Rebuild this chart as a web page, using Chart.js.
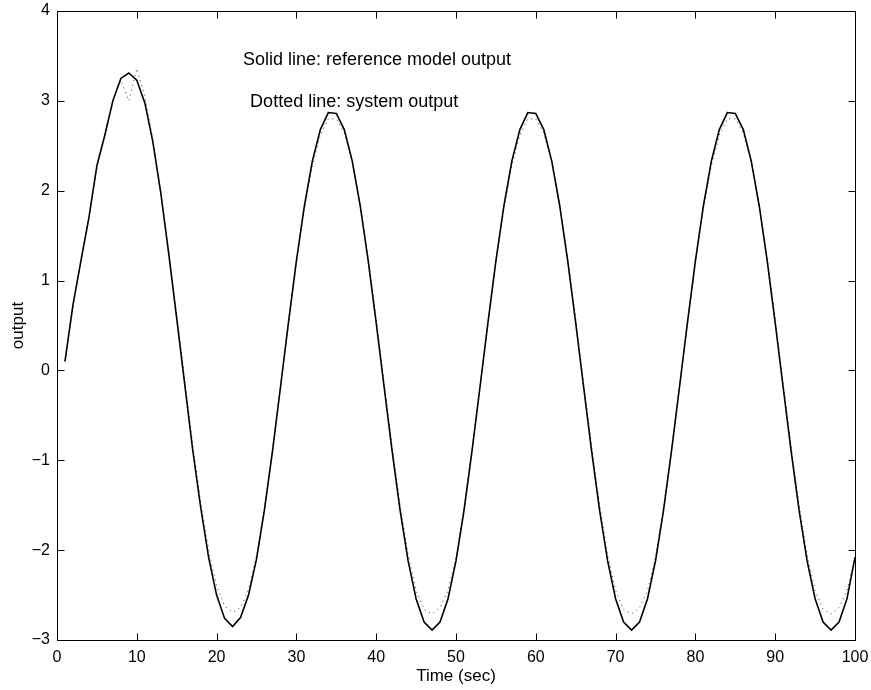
<!DOCTYPE html>
<html><head><meta charset="utf-8">
<script src="https://cdn.jsdelivr.net/npm/chart.js@4.4.1/dist/chart.umd.min.js"></script>
<style>html,body{margin:0;padding:0;background:#fff}#wrap{width:871px;height:690px}</style>
</head><body><div id="wrap"><canvas id="c" width="871" height="690"></canvas></div>
<script>
const timeSec = [1,2,3,4,5,6,7,8,9,10,11,12,13,14,15,16,17,18,19,20,21,22,23,24,25,26,27,28,29,30,31,32,33,34,35,36,37,38,39,40,41,42,43,44,45,46,47,48,49,50,51,52,53,54,55,56,57,58,59,60,61,62,63,64,65,66,67,68,69,70,71,72,73,74,75,76,77,78,79,80,81,82,83,84,85,86,87,88,89,90,91,92,93,94,95,96,97,98,99,100];
const referenceOutput = [
 0.10,0.73,1.22,1.70,2.28,2.62,3.00,3.25,3.31,3.23,
 2.98,2.55,1.98,1.30,0.58,-0.15,-0.88,-1.52,-2.08,-2.50,
 -2.76,-2.85,-2.75,-2.50,-2.10,-1.55,-0.90,-0.19,0.53,1.22,
 1.83,2.33,2.68,2.87,2.86,2.68,2.33,1.83,1.22,0.53,
 -0.19,-0.90,-1.56,-2.12,-2.54,-2.80,-2.89,-2.80,-2.54,-2.12,
 -1.56,-0.90,-0.19,0.53,1.22,1.83,2.33,2.68,2.87,2.86,
 2.68,2.33,1.83,1.22,0.53,-0.19,-0.90,-1.56,-2.12,-2.54,
 -2.80,-2.89,-2.80,-2.54,-2.12,-1.56,-0.90,-0.19,0.53,1.22,
 1.83,2.33,2.68,2.87,2.86,2.68,2.33,1.83,1.22,0.53,
 -0.19,-0.90,-1.56,-2.12,-2.54,-2.80,-2.89,-2.80,-2.54,-2.08];
const systemOutput = [
 0.10,0.70,1.24,1.72,2.25,2.65,3.00,3.23,3.00,3.36,
 3.06,2.58,1.98,1.32,0.62,-0.10,-0.82,-1.46,-2.00,-2.40,
 -2.62,-2.69,-2.64,-2.44,-2.06,-1.52,-0.88,-0.18,0.52,1.20,
 1.80,2.28,2.62,2.80,2.80,2.64,2.32,1.84,1.25,0.57,
 -0.14,-0.85,-1.50,-2.05,-2.45,-2.66,-2.71,-2.64,-2.45,-2.08,
 -1.53,-0.88,-0.18,0.52,1.20,1.80,2.28,2.62,2.80,2.80,
 2.64,2.32,1.84,1.25,0.57,-0.14,-0.85,-1.50,-2.05,-2.45,
 -2.66,-2.71,-2.64,-2.45,-2.08,-1.53,-0.88,-0.18,0.52,1.20,
 1.80,2.28,2.62,2.80,2.80,2.64,2.32,1.84,1.25,0.57,
 -0.14,-0.85,-1.50,-2.05,-2.45,-2.66,-2.71,-2.64,-2.45,-2.08];
const xTickValues = [0,10,20,30,40,50,60,70,80,90,100];
const yTickValues = [-3,-2,-1,0,1,2,3,4];
const noteTexts = ['Solid line: reference model output', 'Dotted line: system output'];
const noteAt = [[23.3, 3.45], [24.2, 2.99]];

const FONT = 'Liberation Sans, Arial, Helvetica, sans-serif';

const boxPlugin = {
  id: 'boxTicks',
  afterDraw(chart) {
    const {ctx, chartArea: a, scales} = chart;
    const L = Math.round(a.left) + 0.5, R = Math.round(a.right) + 0.5;
    const T = Math.round(a.top) + 0.5, B = Math.round(a.bottom) + 0.5;
    ctx.save();
    ctx.strokeStyle = '#000';
    ctx.lineWidth = 1;
    ctx.strokeRect(L, T, R - L, B - T);
    ctx.beginPath();
    xTickValues.forEach(v => {
      const px = Math.round(scales.x.getPixelForValue(v)) + 0.5;
      ctx.moveTo(px, B); ctx.lineTo(px, B - 7);
      ctx.moveTo(px, T); ctx.lineTo(px, T + 7);
    });
    yTickValues.forEach(v => {
      const py = Math.round(scales.y.getPixelForValue(v)) + 0.5;
      ctx.moveTo(L, py); ctx.lineTo(L + 7, py);
      ctx.moveTo(R, py); ctx.lineTo(R - 7, py);
    });
    ctx.stroke();
    ctx.fillStyle = '#000';
    ctx.font = '18px ' + FONT;
    ctx.textAlign = 'left';
    ctx.textBaseline = 'middle';
    noteTexts.forEach((t, i) => {
      ctx.fillText(t, scales.x.getPixelForValue(noteAt[i][0]), scales.y.getPixelForValue(noteAt[i][1]));
    });
    ctx.restore();
  }
};

new Chart(document.getElementById('c'), {
  type: 'line',
  data: {
    datasets: [
      {
        label: 'reference model output',
        data: timeSec.map((t, i) => ({x: t, y: referenceOutput[i]})),
        borderColor: '#000', borderWidth: 1.6, pointRadius: 0, tension: 0, fill: false
      },
      {
        label: 'system output',
        data: timeSec.map((t, i) => ({x: t, y: systemOutput[i]})),
        borderColor: '#333', borderWidth: 1, borderDash: [1, 4], pointRadius: 0, tension: 0, fill: false
      }
    ]
  },
  options: {
    responsive: false,
    animation: false,
    devicePixelRatio: 1,
    layout: {padding: {top: 11, right: 16, left: 0, bottom: 0}},
    plugins: {legend: {display: false}, tooltip: {enabled: false}},
    scales: {
      x: {
        type: 'linear', min: 0, max: 100,
        afterFit(s) { s.height = 50; s.paddingLeft = 0; s.paddingRight = 0; },
        afterBuildTicks(s) { s.ticks = xTickValues.map(v => ({value: v})); },
        ticks: {color: '#000', font: {family: FONT, size: 16}, padding: 8, maxRotation: 0, autoSkip: false},
        grid: {display: false, drawTicks: false},
        border: {display: false},
        title: {display: true, text: 'Time (sec)', color: '#000', font: {family: FONT, size: 17}, padding: {top: 0, bottom: 3}}
      },
      y: {
        type: 'linear', min: -3, max: 4,
        afterFit(s) { s.width = 57; s.paddingTop = 0; s.paddingBottom = 0; },
        afterBuildTicks(s) { s.ticks = yTickValues.map(v => ({value: v})); },
        ticks: {color: '#000', font: {family: FONT, size: 16}, padding: 7,
          callback: v => (v < 0 ? '\u2212' + Math.abs(v) : String(v))},
        grid: {display: false, drawTicks: false},
        border: {display: false},
        title: {display: true, text: 'output', color: '#000', font: {family: FONT, size: 17}, padding: {top: 8, bottom: 0}}
      }
    }
  },
  plugins: [boxPlugin]
});
</script>
</body></html>
